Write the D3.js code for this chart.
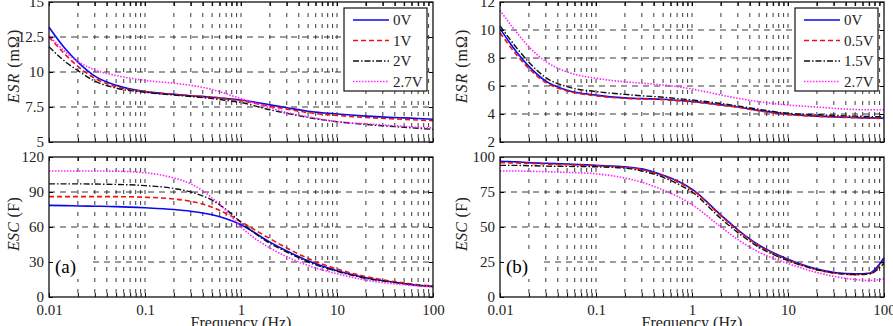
<!DOCTYPE html>
<html>
<head>
<meta charset="utf-8">
<script src="https://cdn.jsdelivr.net/npm/d3@7"></script>
<style>
  body { margin: 0; background: #fff; }
  svg { font-family: "Liberation Serif", "Times New Roman", serif; }
</style>
</head>
<body>
<svg id="chart" width="893" height="326"></svg>
<script>
// frequency points (Hz)
const freqs = [0.01, 0.015, 0.02, 0.03, 0.05, 0.1, 0.2, 0.3, 0.5, 0.7, 1, 2, 3, 5, 10, 20, 50, 70, 100];
const xTicks = [0.01, 0.1, 1, 10, 100];

// (a) ESR, mOhm
const esrA_0V  = [13.2, 11.6, 10.7, 9.7, 9.05, 8.6, 8.4, 8.3, 8.2, 8.1, 8.0, 7.65, 7.45, 7.2, 7.0, 6.85, 6.72, 6.68, 6.62];
const esrA_1V  = [12.5, 11.2, 10.4, 9.55, 8.95, 8.6, 8.4, 8.3, 8.2, 8.1, 7.95, 7.55, 7.35, 7.1, 6.9, 6.75, 6.62, 6.57, 6.52];
const esrA_2V  = [11.8, 10.7, 10.1, 9.35, 8.85, 8.55, 8.35, 8.25, 8.1, 7.98, 7.82, 7.3, 7.05, 6.75, 6.45, 6.25, 6.05, 5.98, 5.9];
const esrA_27V = [12.6, 11.4, 10.75, 10.15, 9.75, 9.4, 9.2, 9.05, 8.75, 8.45, 8.1, 7.45, 7.1, 6.8, 6.45, 6.3, 6.12, 6.05, 6.0];
// (a) ESC, F
const escA_0V  = [78.5, 78.3, 78, 77.8, 77.5, 76.5, 75, 73.5, 70.5, 67, 62, 47, 39.5, 31, 22.5, 16.5, 11.5, 10, 9];
const escA_1V  = [86, 86, 86, 86, 86, 85.5, 84, 82, 77, 71.5, 64.5, 50, 42, 33, 24, 17.5, 12, 10.5, 9.5];
const escA_2V  = [97, 97, 97, 96.8, 96.5, 95.5, 93, 90, 83, 75, 64, 46, 38.5, 30, 22, 16, 11.5, 10, 9];
const escA_27V = [108, 108, 108, 108, 107.8, 106.5, 102, 97, 85, 74, 60, 42, 34.5, 27, 20, 14.5, 10.5, 9.5, 8.5];

// (b) ESR, mOhm
const esrB_0V  = [10.1, 8.4, 7.4, 6.35, 5.7, 5.35, 5.15, 5.1, 5.05, 4.98, 4.9, 4.65, 4.5, 4.25, 3.98, 3.85, 3.75, 3.72, 3.7];
const esrB_05V = [9.8, 8.2, 7.25, 6.25, 5.65, 5.3, 5.12, 5.08, 5.02, 4.95, 4.88, 4.63, 4.48, 4.22, 3.96, 3.83, 3.73, 3.7, 3.68];
const esrB_15V = [10.3, 8.7, 7.7, 6.6, 5.95, 5.6, 5.4, 5.3, 5.2, 5.1, 5.0, 4.75, 4.58, 4.33, 4.05, 3.95, 3.85, 3.82, 3.8];
const esrB_27V = [11.4, 9.8, 8.8, 7.75, 7.0, 6.55, 6.3, 6.2, 6.07, 5.95, 5.78, 5.36, 5.12, 4.88, 4.64, 4.5, 4.32, 4.3, 4.3];
// (b) ESC, F
const escB_0V  = [97, 96.5, 96, 95.5, 95, 94, 93, 91.5, 87, 83, 77, 58.5, 48, 37, 27, 20, 16.5, 17, 28];
const escB_05V = [96, 95.7, 95.5, 95, 94.5, 93.8, 92.5, 91, 86.5, 82.5, 76.5, 58, 47.5, 36.5, 26.5, 19.5, 16, 16.5, 26];
const escB_15V = [94, 94, 93.8, 93.5, 93.3, 93, 92, 90, 85.5, 81, 75, 56, 46, 35.5, 26, 19.5, 16, 16.5, 24];
const escB_27V = [90, 90, 89.8, 89.5, 89, 88, 85, 82, 76.5, 72, 66, 50, 41, 32, 24, 17.5, 12.5, 11.8, 13];

const legendA = ["0V", "1V", "2V", "2.7V"];
const legendB = ["0V", "0.5V", "1.5V", "2.7V"];

const styles = [
  { color: "#0a0aee", dash: null, w: 1.6 },
  { color: "#ee1111", dash: "5,3", w: 1.6 },
  { color: "#111111", dash: "6,2,1.5,2", w: 1.4 },
  { color: "#ff22ff", dash: "1.5,1.5", w: 1.6 }
];

const panels = [
  { x0: 49, x1: 433, y0: 2, y1: 142, dom: [5, 15], ticks: [5, 7.5, 10, 12.5, 15], label: ["ESR", " (mΩ)"], labelX: 13, labelY: 66,
    series: [esrA_0V, esrA_1V, esrA_2V, esrA_27V], legend: legendA, xlab: false },
  { x0: 49, x1: 433, y0: 157, y1: 297, dom: [0, 120], ticks: [0, 30, 60, 90, 120], label: ["ESC", " (F)"], labelX: 13, labelY: 224,
    series: [escA_0V, escA_1V, escA_2V, escA_27V], tag: "(a)", xlab: true },
  { x0: 500, x1: 884, y0: 2, y1: 142, dom: [2, 12], ticks: [2, 4, 6, 8, 10, 12], label: ["ESR", " (mΩ)"], labelX: 461, labelY: 66,
    series: [esrB_0V, esrB_05V, esrB_15V, esrB_27V], legend: legendB, xlab: false },
  { x0: 500, x1: 884, y0: 157, y1: 297, dom: [0, 100], ticks: [0, 25, 50, 75, 100], label: ["ESC", " (F)"], labelX: 461, labelY: 224,
    series: [escB_0V, escB_05V, escB_15V, escB_27V], tag: "(b)", xlab: true }
];

const svg = d3.select("#chart");

// all decade sub-ticks 0.01 .. 90
const minor = [];
for (let e = -2; e < 2; e++) for (let k = 1; k < 10; k++) minor.push(k * Math.pow(10, e));

for (const p of panels) {
  const x = d3.scaleLog().domain([0.01, 100]).range([p.x0, p.x1]);
  const y = d3.scaleLinear().domain(p.dom).range([p.y1, p.y0]);
  const g = svg.append("g");

  // dashed grid
  g.selectAll(".vg").data(minor.filter(f => f > 0.01 && f < 100)).join("line")
    .attr("x1", d => x(d)).attr("x2", d => x(d)).attr("y1", p.y0).attr("y2", p.y1)
    .attr("stroke", "#222").attr("stroke-width", 0.9).attr("stroke-dasharray", "4,7");
  g.selectAll(".hg").data(p.ticks.slice(1, -1)).join("line")
    .attr("x1", p.x0).attr("x2", p.x1).attr("y1", d => y(d)).attr("y2", d => y(d))
    .attr("stroke", "#222").attr("stroke-width", 0.9).attr("stroke-dasharray", "6,5");

  if (p.tag) {
    g.append("rect").attr("x", p.x0 + 1).attr("y", y(p.dom[1] * 0.3) - 2).attr("width", 42).attr("height", 26).attr("fill", "#fff");
    g.append("text").attr("x", p.x0 + 6).attr("y", p.y1 - 24).attr("font-size", 19).text(p.tag);
  }

  // curves
  const line = d3.line().x(d => x(d[0])).y(d => y(d[1])).curve(d3.curveMonotoneX);
  p.series.forEach((s, i) => {
    g.append("path").datum(freqs.map((f, j) => [f, s[j]]))
      .attr("d", line).attr("fill", "none")
      .attr("stroke", styles[i].color).attr("stroke-width", styles[i].w)
      .attr("stroke-dasharray", styles[i].dash);
  });

  // axes
  const ay = g.append("g").attr("transform", `translate(${p.x0},0)`)
    .call(d3.axisLeft(y).tickValues(p.ticks).tickSizeInner(-4).tickSizeOuter(0).tickPadding(5).tickFormat(d3.format("")));
  ay.select(".domain").remove();
  ay.selectAll("text").attr("font-size", 15).attr("font-family", "Liberation Serif").attr("fill", "#222");
  const ay2 = g.append("g").attr("transform", `translate(${p.x1},0)`)
    .call(d3.axisRight(y).tickValues(p.ticks).tickSizeInner(-4).tickSizeOuter(0).tickFormat(""));
  ay2.select(".domain").remove();

  const ax = g.append("g").attr("transform", `translate(0,${p.y1})`)
    .call(d3.axisBottom(x).tickValues(minor.filter(f => f >= 0.01).concat([100])).tickSizeInner(-4).tickSizeOuter(0).tickPadding(7)
      .tickFormat(d => p.xlab && xTicks.includes(d) ? d3.format("")(d) : ""));
  ax.select(".domain").remove();
  ax.selectAll("text").attr("font-size", 15).attr("font-family", "Liberation Serif").attr("fill", "#222");
  const ax2 = g.append("g").attr("transform", `translate(0,${p.y0})`)
    .call(d3.axisTop(x).tickValues(minor.filter(f => f >= 0.01)).tickSizeInner(-4).tickSizeOuter(0).tickFormat(""));
  ax2.select(".domain").remove();

  g.append("rect").attr("x", p.x0).attr("y", p.y0).attr("width", p.x1 - p.x0).attr("height", p.y1 - p.y0)
    .attr("fill", "none").attr("stroke", "#111").attr("stroke-width", 1.3);

  // y label
  const t = g.append("text").attr("transform", `translate(${p.labelX},${p.labelY}) rotate(-90)`)
    .attr("text-anchor", "middle").attr("dy", "0.35em").attr("font-size", 16).attr("fill", "#222")
    .attr("letter-spacing", p.label[0] === "ESR" ? 1 : 0.3);
  t.append("tspan").attr("font-style", "italic").text(p.label[0]);
  t.append("tspan").text(p.label[1]);

  if (p.xlab) {
    g.append("text").attr("x", (p.x0 + p.x1) / 2).attr("y", 328).attr("text-anchor", "middle")
      .attr("font-size", 16).attr("fill", "#222").text("Frequency (Hz)");
  }

  // legend
  if (p.legend) {
    const lx = p.x1 - 89, ly = 8;
    const lg = g.append("g").attr("transform", `translate(${lx},${ly})`);
    lg.append("rect").attr("width", 83).attr("height", 83).attr("fill", "#fff").attr("stroke", "#111").attr("stroke-width", 1.2);
    p.legend.forEach((name, i) => {
      const yy = 12 + i * 20.5;
      lg.append("line").attr("x1", 9).attr("x2", 45).attr("y1", yy).attr("y2", yy)
        .attr("stroke", styles[i].color).attr("stroke-width", styles[i].w).attr("stroke-dasharray", styles[i].dash);
      lg.append("text").attr("x", 49).attr("y", yy).attr("dy", "0.35em").attr("font-size", 15).attr("fill", "#222").text(name);
    });
  }
}
</script>
</body>
</html>
